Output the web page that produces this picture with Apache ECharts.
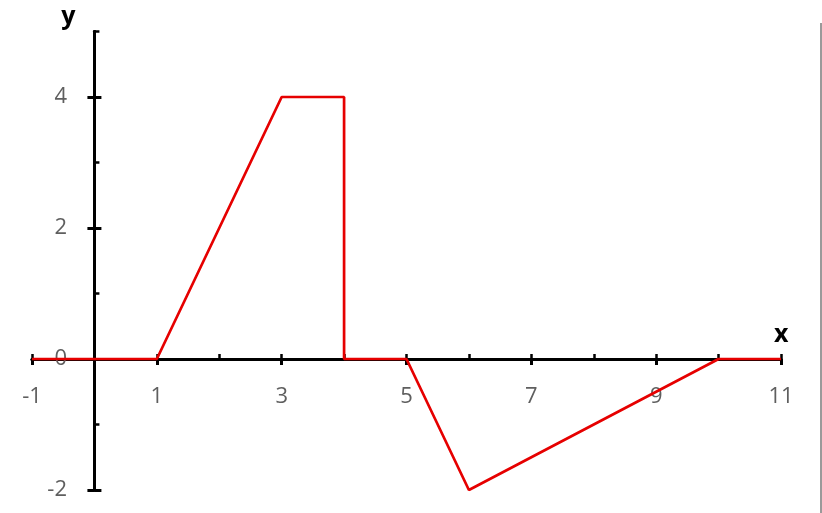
<!DOCTYPE html>
<html>
<head>
<meta charset="utf-8">
<script src="https://cdn.jsdelivr.net/npm/echarts@6/dist/echarts.min.js"></script>
<style>
html,body{margin:0;padding:0;background:#fff;}
#chart{width:822px;height:513px;}
#edge{position:absolute;left:820px;top:23px;width:2px;height:490px;background:#9a9a9a;}
</style>
</head>
<body>
<div id="chart"></div>
<div id="edge"></div>
<script>
// data
const xValues = [-1, 1, 3, 4, 4, 5, 6, 10, 11];
const yValues = [0, 0, 4, 4, 0, 0, -2, 0, 0];
const xTickLabels = [-1, 1, 3, 5, 7, 9, 11];
const xAllTicks = [-1, 0, 1, 2, 3, 4, 5, 6, 7, 8, 9, 10, 11];
const yTickLabels = [-2, 0, 2, 4];
const yAllTicks = [-2, -1, 0, 1, 2, 3, 4, 5];

const points = xValues.map((x, i) => [x, yValues[i]]);
const font = '"Open Sans", "DejaVu Sans", sans-serif';
const axisBlack = { color: '#000', width: 3 };

const chart = echarts.init(document.getElementById('chart'));
chart.setOption({
  animation: false,
  grid: { left: 32, right: 41, top: 31.5, bottom: 23, containLabel: false, outerBoundsMode: 'none' },
  xAxis: [
    {
      type: 'value', min: -1, max: 11, interval: 2, position: 'bottom',
      axisLine: { show: true, onZero: true, onZeroAxisIndex: 0, lineStyle: axisBlack },
      axisTick: { show: true, inside: false, length: 6, customValues: xTickLabels, lineStyle: { color: '#000', width: 3 } },
      axisLabel: { show: true, customValues: xTickLabels, margin: -104, color: '#5f5f5f', fontSize: 22, fontFamily: font },
      splitLine: { show: false },
      name: 'x', nameLocation: 'end', nameGap: -7,
      nameTextStyle: { color: '#000', fontWeight: 'bold', fontSize: 25, fontFamily: font, verticalAlign: 'bottom', padding: [0, 0, 12, 0] }
    },
    {
      type: 'value', min: -1, max: 11, interval: 1, position: 'top',
      axisLine: { show: true, onZero: true, onZeroAxisIndex: 0, lineStyle: axisBlack },
      axisTick: { show: true, inside: false, length: 5, customValues: xAllTicks, lineStyle: { color: '#000', width: 2.5 } },
      axisLabel: { show: false },
      splitLine: { show: false }
    }
  ],
  yAxis: [
    {
      type: 'value', min: -2, max: 5, interval: 2, position: 'left',
      axisLine: { show: true, onZero: true, onZeroAxisIndex: 0, lineStyle: axisBlack },
      axisTick: { show: true, inside: false, length: 7, customValues: yTickLabels, lineStyle: { color: '#000', width: 3 } },
      axisLabel: { show: true, customValues: yTickLabels, margin: -35, color: '#5f5f5f', fontSize: 22, fontFamily: font },
      splitLine: { show: false },
      name: 'y', nameLocation: 'end', nameGap: 2,
      nameTextStyle: { color: '#000', fontWeight: 'bold', fontSize: 25, fontFamily: font, padding: [0, 52, 0, 0] }
    },
    {
      type: 'value', min: -2, max: 5, interval: 1, position: 'right',
      axisLine: { show: true, onZero: true, onZeroAxisIndex: 0, lineStyle: axisBlack },
      axisTick: { show: true, inside: false, length: 5, customValues: yAllTicks, lineStyle: { color: '#000', width: 2.5 } },
      axisLabel: { show: false },
      splitLine: { show: false }
    },
    {
      type: 'value', min: -2, max: 5, interval: 2, position: 'right',
      axisLine: { show: true, onZero: true, onZeroAxisIndex: 0, lineStyle: axisBlack },
      axisTick: { show: true, inside: false, length: 7, customValues: yTickLabels, lineStyle: { color: '#000', width: 3 } },
      axisLabel: { show: false },
      splitLine: { show: false }
    }
  ],
  series: [
    {
      type: 'line', xAxisIndex: 0, yAxisIndex: 0,
      data: points, symbol: 'none', z: 5,
      lineStyle: { color: '#e60000', width: 2.7 }
    }
  ]
});
</script>
</body>
</html>
